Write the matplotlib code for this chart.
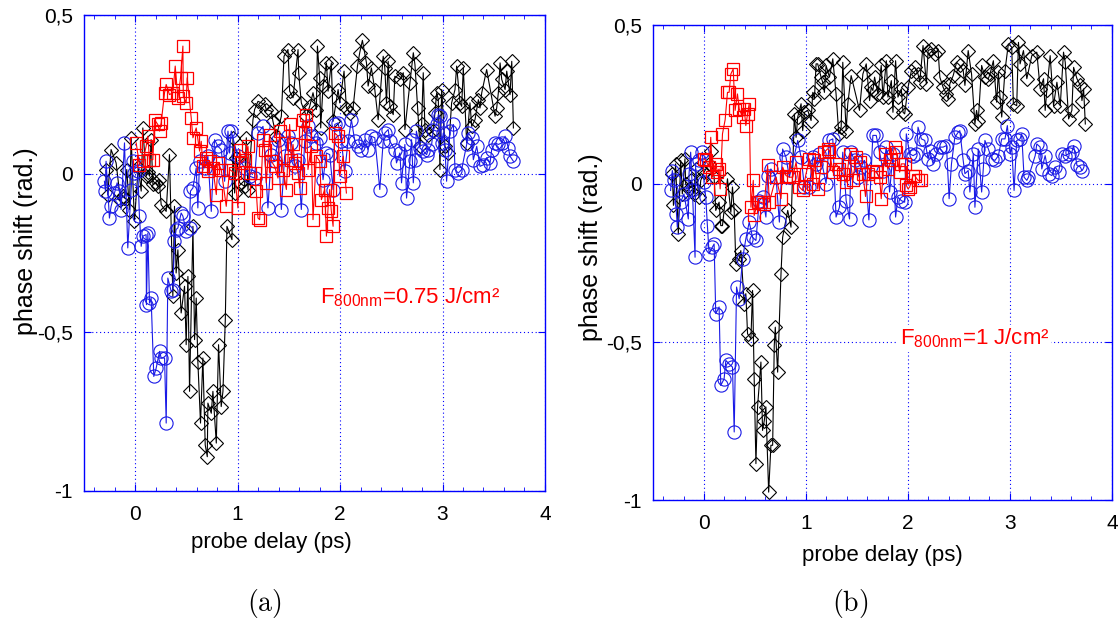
import numpy as np
import matplotlib
matplotlib.use("Agg")
import matplotlib.pyplot as plt
from matplotlib.ticker import FixedLocator, MultipleLocator

plt.rcParams['font.family'] = ['Liberation Sans', 'DejaVu Sans']
plt.rcParams['mathtext.default'] = 'regular'

##############################
#  data
##############################
#-- (x ps, phase shift rad)
a_black = [(-0.284, 0.01), (-0.267, -0.066), (-0.235, 0.076), (-0.186, 0.034), (-0.144, -0.082),
           (-0.12, -0.07), (-0.104, -0.077), (-0.082, 0.013), (-0.056, -0.113), (-0.039, 0.113),
           (-0.007, -0.15), (0.03, 0.02), (0.059, -0.055), (0.075, 0.144), (0.107, -0.008),
           (0.125, 0.005), (0.14, -0.008), (0.156, 0.107), (0.173, -0.034), (0.205, -0.029),
           (0.221, -0.04), (0.235, -0.019), (0.254, -0.098), (0.303, -0.119), (0.335, 0.06),
           (0.368, -0.387), (0.384, -0.103), (0.4, -0.313), (0.417, -0.24), (0.449, -0.439),
           (0.482, -0.355), (0.498, -0.539), (0.515, -0.324), (0.531, -0.686), (0.564, -0.166),
           (0.58, -0.523), (0.596, -0.392), (0.612, -0.592), (0.638, -0.786), (0.661, -0.581),
           (0.684, -0.855), (0.704, -0.892), (0.71, -0.723), (0.743, -0.755), (0.759, -0.686),
           (0.792, -0.849), (0.814, -0.539), (0.84, -0.734), (0.857, -0.686), (0.88, -0.46),
           (0.896, -0.166), (0.945, -0.208), (0.955, 0.113), (0.971, -0.061), (0.987, 0.05),
           (1.02, -0.029), (1.068, -0.04), (1.085, 0.113), (1.101, -0.05), (1.15, 0.17),
           (1.166, 0.202), (1.199, 0.228), (1.264, 0.218), (1.28, 0.202), (1.329, 0.197),
           (1.345, 0.165), (1.378, 0.118), (1.427, 0.181), (1.453, 0.37), (1.492, 0.391),
           (1.508, 0.26), (1.541, 0.239), (1.59, 0.391), (1.596, 0.318), (1.622, 0.223),
           (1.671, 0.181), (1.704, 0.212), (1.736, 0.255), (1.769, 0.202), (1.779, 0.402),
           (1.801, 0.302), (1.811, 0.144), (1.834, 0.276), (1.867, 0.349), (1.883, 0.26),
           (1.915, 0.349), (1.932, 0.165), (1.981, 0.265), (1.997, 0.223), (2.039, 0.323),
           (2.062, 0.207), (2.095, 0.191), (2.127, 0.207), (2.17, 0.339), (2.192, 0.381),
           (2.218, 0.42), (2.258, 0.349), (2.274, 0.276), (2.306, 0.333), (2.339, 0.265),
           (2.372, 0.17), (2.421, 0.37), (2.437, 0.333), (2.453, 0.223), (2.47, 0.354),
           (2.486, 0.212), (2.519, 0.186), (2.535, 0.307), (2.584, 0.297), (2.617, 0.318),
           (2.633, 0.139), (2.682, 0.286), (2.715, 0.381), (2.731, 0.344), (2.757, 0.207),
           (2.78, 0.086), (2.796, 0.155), (2.812, 0.318), (2.829, 0.139), (2.861, 0.123),
           (2.91, 0.134), (2.926, 0.191), (2.943, 0.255), (2.959, 0.233), (2.975, 0.013),
           (2.992, 0.265), (3.024, 0.086), (3.057, 0.065), (3.089, 0.223), (3.122, 0.265),
           (3.138, 0.339), (3.171, 0.223), (3.187, 0.212), (3.203, 0.333), (3.236, 0.097),
           (3.268, 0.223), (3.285, 0.149), (3.317, 0.17), (3.35, 0.233), (3.366, 0.207),
           (3.383, 0.255), (3.431, 0.328), (3.513, 0.181), (3.529, 0.207), (3.545, 0.255),
           (3.562, 0.349), (3.578, 0.297), (3.611, 0.265), (3.627, 0.323), (3.659, 0.249),
           (3.676, 0.354), (3.692, 0.144)]

a_blue = [(-0.30, -0.024), (-0.29, -0.055), (-0.284, 0.039), (-0.251, -0.14), (-0.235, -0.103),
          (-0.202, -0.061), (-0.176, -0.029), (-0.153, -0.055), (-0.137, -0.113), (-0.104, 0.097),
          (-0.072, -0.234), (-0.039, -0.05), (-0.023, 0.039), (-0.007, 0.002), (0.026, 0.007),
          (0.042, -0.134), (0.059, -0.229), (0.075, -0.197), (0.107, -0.192), (0.11, -0.413),
          (0.124, -0.187), (0.14, -0.408), (0.156, -0.392), (0.182, -0.639), (0.205, -0.613),
          (0.238, -0.56), (0.254, -0.581), (0.287, -0.581), (0.303, -0.786), (0.319, -0.329),
          (0.352, -0.371), (0.368, -0.366), (0.384, -0.213), (0.4, -0.176), (0.417, -0.171),
          (0.449, -0.124), (0.466, -0.134), (0.498, -0.182), (0.531, -0.171), (0.54, -0.055),
          (0.564, -0.045), (0.596, 0.018), (0.612, -0.108), (0.629, 0.039), (0.678, 0.018),
          (0.71, 0.055), (0.743, -0.119), (0.775, 0.107), (0.808, 0.086), (0.84, 0.076),
          (0.873, -0.024), (0.906, 0.134), (0.922, 0.065), (0.938, 0.134), (1.0, 0.055),
          (1.068, 0.018), (1.117, -0.008), (1.166, -0.014), (1.199, 0.128), (1.248, 0.149),
          (1.296, -0.108), (1.329, 0.06), (1.362, 0.039), (1.394, 0.107), (1.427, -0.113),
          (1.459, 0.055), (1.492, 0.118), (1.525, 0.097), (1.557, 0.023), (1.59, 0.044),
          (1.622, -0.113), (1.655, 0.102), (1.687, 0.149), (1.72, 0.118), (1.769, 0.097),
          (1.801, 0.113), (1.834, -0.019), (1.867, 0.065), (1.899, 0.06), (1.932, -0.05),
          (1.948, 0.155), (1.981, 0.16), (2.013, 0.102), (2.046, 0.007), (2.078, 0.102),
          (2.111, 0.17), (2.144, 0.102), (2.176, 0.086), (2.209, 0.076), (2.241, 0.107),
          (2.274, 0.076), (2.306, 0.118), (2.339, 0.113), (2.388, -0.05), (2.421, 0.102),
          (2.437, 0.128), (2.47, 0.139), (2.486, 0.102), (2.535, 0.076), (2.551, 0.034),
          (2.584, 0.065), (2.6, -0.029), (2.633, 0.092), (2.649, -0.077), (2.682, 0.039),
          (2.698, 0.107), (2.715, -0.029), (2.731, 0.044), (2.745, 0.134), (2.78, 0.081),
          (2.812, 0.071), (2.845, 0.06), (2.861, 0.076), (2.894, 0.092), (2.91, 0.139),
          (2.943, 0.155), (2.959, 0.186), (2.975, 0.181), (2.992, 0.097), (3.008, 0.128),
          (3.024, 0.076), (3.04, -0.024), (3.073, 0.134), (3.106, 0.155), (3.122, 0.013),
          (3.154, 0.002), (3.187, 0.013), (3.236, 0.092), (3.252, 0.128), (3.285, 0.113),
          (3.301, 0.044), (3.334, 0.086), (3.366, 0.023), (3.399, 0.028), (3.431, 0.05),
          (3.464, 0.034), (3.48, 0.076), (3.513, 0.097), (3.545, 0.092), (3.578, 0.097),
          (3.611, 0.118), (3.643, 0.081), (3.659, 0.055), (3.692, 0.039)]

a_red = [(0.01, 0.097), (0.042, 0.028), (0.075, 0.039), (0.107, 0.086), (0.124, 0.118),
         (0.14, 0.044), (0.173, 0.044), (0.189, 0.17), (0.221, 0.155), (0.238, 0.134),
         (0.254, 0.16), (0.287, 0.255), (0.303, 0.281), (0.335, 0.249), (0.368, 0.255),
         (0.391, 0.339), (0.417, 0.239), (0.443, 0.302), (0.466, 0.402), (0.47, 0.244),
         (0.498, 0.223), (0.508, 0.302), (0.547, 0.176), (0.564, 0.113), (0.596, 0.144),
         (0.629, 0.071), (0.645, 0.102), (0.661, 0.023), (0.694, 0.05), (0.71, 0.007),
         (0.726, 0.039), (0.759, 0.018), (0.792, -0.066), (0.808, 0.034), (0.84, 0.013),
         (0.889, -0.103), (0.922, 0.013), (0.971, 0.002), (1.003, -0.108), (1.02, 0.076),
         (1.036, 0.034), (1.068, 0.044), (1.101, 0.086), (1.117, 0.002), (1.166, 0.002),
         (1.182, -0.055), (1.199, -0.14), (1.215, -0.145), (1.248, 0.107), (1.264, 0.076),
         (1.28, -0.029), (1.313, 0.123), (1.329, 0.039), (1.362, 0.023), (1.394, -0.014),
         (1.41, 0.134), (1.443, 0.013), (1.476, -0.05), (1.508, 0.155), (1.525, 0.044),
         (1.541, 0.092), (1.557, 0.034), (1.59, 0.002), (1.606, -0.045), (1.639, 0.17),
         (1.655, 0.128), (1.671, 0.186), (1.687, 0.013), (1.72, 0.086), (1.736, -0.145),
         (1.769, 0.055), (1.801, 0.039), (1.818, -0.082), (1.85, -0.05), (1.867, -0.197),
         (1.883, -0.108), (1.899, -0.05), (1.915, -0.119), (1.932, -0.166), (1.948, 0.128),
         (1.981, 0.118), (1.997, -0.008), (2.03, 0.055), (2.062, -0.061)]

b_black = [(-0.311, 0.031), (-0.30, -0.069), (-0.279, 0.062), (-0.252, -0.159), (-0.229, 0.073),
           (-0.213, -0.033), (-0.187, 0.078), (-0.18, -0.001), (-0.147, -0.017), (-0.131, 0.01),
           (-0.098, -0.033), (-0.082, 0.046), (-0.049, -0.043), (-0.032, 0.01), (0.0, 0.036),
           (0.05, 0.062), (0.066, 0.104), (0.099, 0.02), (0.115, -0.085), (0.148, -0.059),
           (0.164, -0.133), (0.181, -0.133), (0.23, 0.015), (0.263, -0.091), (0.279, -0.011),
           (0.296, -0.085), (0.312, -0.254), (0.345, -0.238), (0.361, -0.212), (0.394, -0.38),
           (0.41, -0.348), (0.427, -0.475), (0.46, -0.49), (0.476, -0.338), (0.492, -0.617),
           (0.509, -0.885), (0.525, -0.706), (0.558, -0.564), (0.574, -0.78), (0.591, -0.749),
           (0.607, -0.706), (0.634, -0.975), (0.656, -0.827), (0.673, -0.827), (0.689, -0.511),
           (0.699, -0.454), (0.722, -0.596), (0.755, -0.285), (0.771, -0.17), (0.821, -0.085),
           (0.853, -0.138), (0.886, 0.22), (0.903, 0.146), (0.919, 0.21), (0.952, 0.252),
           (0.968, 0.167), (0.985, 0.225), (1.017, 0.231), (1.05, 0.199), (1.067, 0.288),
           (1.083, 0.267), (1.099, 0.378), (1.115, 0.378), (1.148, 0.336), (1.164, 0.32),
           (1.181, 0.288), (1.197, 0.373), (1.23, 0.336), (1.263, 0.394), (1.295, 0.283),
           (1.322, 0.157), (1.345, 0.178), (1.361, 0.383), (1.394, 0.167), (1.41, 0.252),
           (1.443, 0.341), (1.525, 0.231), (1.558, 0.346), (1.591, 0.378), (1.624, 0.262),
           (1.64, 0.304), (1.656, 0.294), (1.673, 0.336), (1.706, 0.283), (1.738, 0.373),
           (1.755, 0.273), (1.788, 0.388), (1.804, 0.273), (1.837, 0.325), (1.853, 0.225),
           (1.879, 0.388), (1.902, 0.273), (1.935, 0.299), (1.952, 0.225), (1.968, 0.22),
           (2.001, 0.304), (2.034, 0.357), (2.066, 0.367), (2.099, 0.346), (2.116, 0.32),
           (2.148, 0.436), (2.181, 0.315), (2.198, 0.42), (2.23, 0.425), (2.263, 0.41),
           (2.296, 0.42), (2.313, 0.336), (2.345, 0.304), (2.378, 0.283), (2.395, 0.267),
           (2.411, 0.315), (2.444, 0.341), (2.477, 0.383), (2.509, 0.373), (2.542, 0.357),
           (2.559, 0.31), (2.591, 0.42), (2.624, 0.346), (2.657, 0.188), (2.673, 0.231),
           (2.69, 0.199), (2.723, 0.373), (2.755, 0.336), (2.788, 0.331), (2.805, 0.346),
           (2.838, 0.388), (2.87, 0.257), (2.887, 0.352), (2.903, 0.273), (2.92, 0.21),
           (2.952, 0.357), (2.985, 0.441), (3.018, 0.431), (3.034, 0.252), (3.067, 0.246),
           (3.084, 0.446), (3.1, 0.378), (3.133, 0.42), (3.166, 0.331), (3.215, 0.404),
           (3.264, 0.415), (3.297, 0.299), (3.33, 0.331), (3.346, 0.231), (3.362, 0.294),
           (3.395, 0.404), (3.428, 0.246), (3.461, 0.32), (3.494, 0.246), (3.526, 0.415),
           (3.543, 0.383), (3.576, 0.204), (3.608, 0.231), (3.625, 0.367), (3.658, 0.331),
           (3.691, 0.31), (3.707, 0.262), (3.723, 0.299), (3.74, 0.188)]

b_blue = [(-0.328, -0.022), (-0.311, 0.041), (-0.295, 0.01), (-0.27, -0.096), (-0.262, -0.138),
          (-0.229, -0.059), (-0.197, -0.033), (-0.154, -0.112), (-0.147, 0.031), (-0.131, 0.099),
          (-0.114, -0.022), (-0.088, -0.233), (-0.082, 0.062), (-0.049, 0.073), (-0.016, 0.099),
          (0.0, 0.004), (0.017, -0.043), (0.033, -0.133), (0.05, -0.222), (0.082, -0.201),
          (0.099, -0.191), (0.115, -0.411), (0.148, -0.39), (0.164, -0.638), (0.197, -0.617),
          (0.214, -0.559), (0.246, -0.57), (0.279, -0.58), (0.296, -0.785), (0.319, -0.327),
          (0.345, -0.364), (0.378, -0.238), (0.41, -0.175), (0.443, -0.122), (0.476, -0.17),
          (0.509, -0.18), (0.542, -0.054), (0.574, -0.043), (0.607, -0.106), (0.624, 0.025),
          (0.656, 0.046), (0.706, 0.02), (0.739, -0.122), (0.771, 0.109), (0.804, 0.083),
          (0.837, 0.02), (0.919, 0.136), (0.952, 0.083), (0.985, -0.011), (1.034, -0.011),
          (1.067, 0.083), (1.099, 0.062), (1.13, 0.094), (1.164, 0.052), (1.197, 0.0),
          (1.23, 0.136), (1.263, 0.141), (1.295, -0.106), (1.328, -0.075), (1.361, 0.099),
          (1.394, -0.054), (1.427, -0.112), (1.443, 0.099), (1.476, 0.073), (1.509, 0.02),
          (1.542, 0.052), (1.574, 0.073), (1.617, -0.115), (1.656, 0.152), (1.689, 0.152),
          (1.722, 0.099), (1.755, 0.041), (1.788, 0.115), (1.82, -0.027), (1.853, 0.094),
          (1.879, -0.106), (1.902, -0.043), (1.935, -0.054), (1.968, -0.059), (1.984, 0.157),
          (2.017, 0.094), (2.05, 0.088), (2.083, 0.094), (2.099, 0.178), (2.132, 0.141),
          (2.165, 0.136), (2.198, 0.078), (2.214, 0.104), (2.247, 0.062), (2.28, 0.094),
          (2.313, 0.115), (2.345, 0.115), (2.378, 0.12), (2.404, -0.048), (2.427, 0.062),
          (2.46, 0.146), (2.493, 0.162), (2.509, 0.167), (2.542, 0.073), (2.559, 0.031),
          (2.591, 0.041), (2.608, -0.027), (2.641, 0.094), (2.657, -0.075), (2.69, 0.109),
          (2.723, -0.027), (2.739, 0.046), (2.755, 0.136), (2.788, 0.11), (2.821, 0.078),
          (2.854, 0.073), (2.887, 0.088), (2.92, 0.141), (2.952, 0.141), (2.975, 0.183),
          (3.002, 0.094), (3.018, 0.115), (3.041, -0.022), (3.067, 0.136), (3.1, 0.141),
          (3.116, 0.157), (3.139, 0.02), (3.166, 0.01), (3.182, 0.02), (3.248, 0.088),
          (3.264, 0.125), (3.297, 0.115), (3.313, 0.046), (3.346, 0.088), (3.379, 0.031),
          (3.412, 0.025), (3.444, 0.052), (3.477, 0.036), (3.51, 0.094), (3.543, 0.088),
          (3.576, 0.094), (3.608, 0.099), (3.625, 0.12), (3.658, 0.057), (3.691, 0.052),
          (3.707, 0.041)]

b_red = [(0.0, 0.078), (0.017, 0.073), (0.05, 0.052), (0.066, 0.146), (0.082, 0.02),
         (0.115, 0.062), (0.132, 0.036), (0.148, 0.046), (0.158, -0.017), (0.181, 0.157),
         (0.207, 0.201), (0.23, 0.288), (0.246, 0.288), (0.263, 0.346), (0.286, 0.362),
         (0.305, 0.231), (0.328, 0.283), (0.345, 0.236), (0.378, 0.21), (0.394, 0.236),
         (0.41, 0.183), (0.427, 0.22), (0.443, 0.252), (0.46, -0.075), (0.483, 0.01),
         (0.492, -0.101), (0.525, -0.059), (0.558, -0.059), (0.591, -0.064), (0.624, 0.057),
         (0.64, -0.059), (0.706, 0.02), (0.755, -0.048), (0.771, 0.052), (0.804, 0.025),
         (0.837, 0.02), (0.87, 0.02), (0.903, 0.067), (0.935, -0.011), (0.968, -0.022),
         (1.001, 0.031), (1.034, 0.078), (1.067, -0.001), (1.082, 0.073), (1.115, -0.017),
         (1.148, 0.052), (1.181, 0.099), (1.213, 0.11), (1.23, 0.104), (1.263, 0.036),
         (1.295, 0.062), (1.328, 0.046), (1.361, 0.031), (1.394, 0.004), (1.427, 0.094),
         (1.46, 0.01), (1.492, 0.083), (1.525, 0.067), (1.558, 0.031), (1.584, -0.041),
         (1.607, 0.031), (1.656, 0.041), (1.689, 0.036), (1.722, 0.02), (1.738, -0.048),
         (1.771, 0.094), (1.804, 0.046), (1.837, 0.073), (1.87, 0.115), (1.886, 0.099),
         (1.919, 0.036), (1.935, 0.062), (1.968, 0.062), (1.984, -0.006), (2.001, -0.017),
         (2.017, -0.011), (2.05, 0.025), (2.066, 0.025), (2.099, 0.01), (2.132, 0.01)]

y_ticks = [-1, -0.5, 0, 0.5]
y_ticklabels = ["-1", "-0,5", "0", "0,5"]
x_ticks = [0, 1, 2, 3, 4]

labels_fluence = [r"F$_{800nm}$=0.75 J/cm²", r"F$_{800nm}$=1 J/cm²"]
captions = [r"$\mathrm{(a)}$", r"$\mathrm{(b)}$"]


##############################
#  drawing
##############################
def style_axes(ax):
	ax.set_xlim(-0.5, 4)
	ax.set_ylim(-1, 0.5)
	for s in ax.spines.values():
		s.set_color('blue')
		s.set_linewidth(1.0)
	ax.xaxis.set_major_locator(FixedLocator(x_ticks))
	ax.xaxis.set_minor_locator(MultipleLocator(0.2))
	ax.set_yticks(y_ticks)
	ax.set_yticklabels(y_ticklabels)
	ax.tick_params(which='both', direction='in', top=True, right=True, color='blue',
	               labelcolor='black', labelsize=15)
	ax.tick_params(which='major', length=5)
	ax.tick_params(which='minor', length=3)
	ax.tick_params(axis='x', pad=10)
	ax.tick_params(axis='y', pad=8)
	ax.grid(True, which='major', color='blue', ls=(0, (1, 2.5)), lw=0.8)
	ax.set_axisbelow(True)


def draw_series(ax, black, blue, red):
	xk, yk = np.array(black).T
	xb, yb = np.array(blue).T
	xr, yr = np.array(red).T
	ax.plot(xk, yk, '-', color='black', lw=0.8, marker='D', ms=7, mfc='none', mec='black', mew=0.8)
	ax.plot(xb, yb, '-', color='#1a1ae6', lw=0.8, marker='o', ms=9.5, mfc='none', mec='#1a1ae6', mew=0.8)
	ax.plot(xr, yr, '-', color='red', lw=0.8, marker='s', ms=8.5, mfc='none', mec='red', mew=0.9)


fig = plt.figure(figsize=(11.19, 6.19), dpi=100)
ax_a = fig.add_axes([0.075, 0.2068, 0.412, 0.769])
ax_b = fig.add_axes([0.5836, 0.1922, 0.41, 0.767])

for ax, data in [(ax_a, (a_black, a_blue, a_red)), (ax_b, (b_black, b_blue, b_red))]:
	style_axes(ax)
	draw_series(ax, *data)
	ax.set_xlabel('probe delay (ps)', fontsize=16)
	ax.set_ylabel('phase shift (rad.)', fontsize=18)

ax_a.xaxis.set_label_coords(0.406, -0.086)
ax_a.yaxis.set_label_coords(-0.10, 0.525)
ax_b.xaxis.set_label_coords(0.50, -0.095)
ax_b.yaxis.set_label_coords(-0.109, 0.533)

ax_a.text(1.8, -0.39, labels_fluence[0], color='red', fontsize=16, va='center')
ax_b.text(1.92, -0.49, labels_fluence[1], color='red', fontsize=16, va='center',
          bbox=dict(fc='white', ec='none', pad=1))

fig.text(0.236, 0.025, captions[0], fontsize=20, math_fontfamily='cm', ha='center', va='center')
fig.text(0.76, 0.025, captions[1], fontsize=20, math_fontfamily='cm', ha='center', va='center')

plt.savefig('out.png', dpi=100)
